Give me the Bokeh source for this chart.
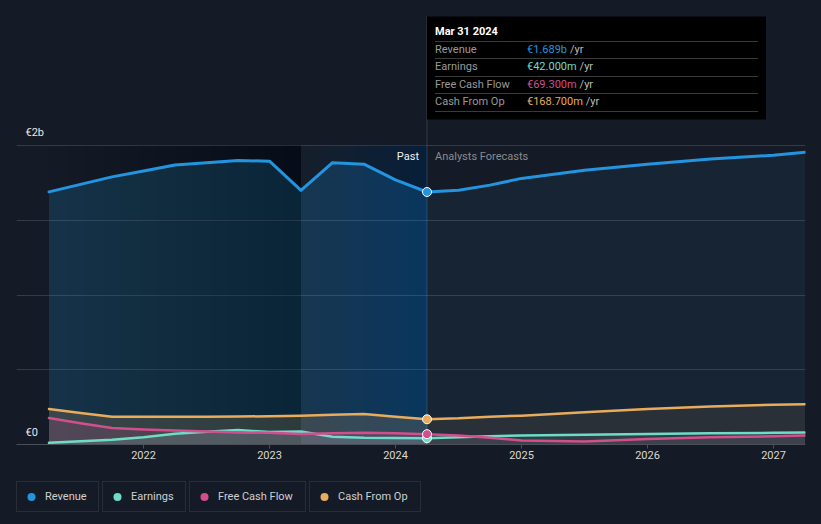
from bokeh.plotting import figure
from bokeh.layouts import column
from bokeh.models import Range1d, FixedTicker, Grid, Legend, LegendItem
from bokeh.core.properties import value
from bokeh.embed import file_html
from bokeh.resources import INLINE
import numpy as np

# ---------------- data (values in EUR billions) ----------------
years_past = [2021.25, 2021.5, 2021.75, 2022.0, 2022.25, 2022.5, 2022.75,
              2023.0, 2023.25, 2023.5, 2023.75, 2024.0, 2024.25]
revenue_past = [1.69, 1.74, 1.79, 1.83, 1.87, 1.885, 1.90,
                1.895, 1.70, 1.885, 1.875, 1.77, 1.689]
earnings_past = [0.011, 0.021, 0.031, 0.049, 0.072, 0.086, 0.097,
                 0.083, 0.087, 0.052, 0.045, 0.044, 0.042]
fcf_past = [0.177, 0.142, 0.111, 0.100, 0.093, 0.087, 0.081,
            0.078, 0.071, 0.075, 0.078, 0.076, 0.0693]
cfo_past = [0.237, 0.210, 0.186, 0.186, 0.186, 0.186, 0.187,
            0.189, 0.193, 0.199, 0.204, 0.186, 0.1687]

years_fc = [2024.25, 2024.5, 2024.75, 2025.0, 2025.5, 2026.0, 2026.5, 2027.0, 2027.25]
revenue_fc = [1.689, 1.70, 1.735, 1.78, 1.835, 1.875, 1.91, 1.935, 1.955]
earnings_fc = [0.042, 0.048, 0.055, 0.060, 0.066, 0.071, 0.075, 0.078, 0.080]
fcf_fc = [0.0693, 0.060, 0.045, 0.027, 0.020, 0.037, 0.049, 0.055, 0.060]
cfo_fc = [0.1687, 0.175, 0.186, 0.193, 0.215, 0.237, 0.255, 0.266, 0.270]

band_start = 2023.25          # start of highlighted past year
x_ticks = [2022, 2023, 2024, 2025, 2026, 2027]
x_tick_labels = ["2022", "2023", "2024", "2025", "2026", "2027"]
y_grid_ticks = [0, 0.5, 1.0, 1.5, 2.0]
y_labels = {0: "€0", 2.0: "€2b"}
series_names = ["Revenue", "Earnings", "Free Cash Flow", "Cash From Op"]
tooltip_date = "Mar 31 2024"

# ---------------- style ----------------
BG = "#151b26"
REV = "#2394df"
EARN = "#6fdcc8"
FCF = "#d24f8d"
CFO = "#e9ac5c"
colors = [REV, EARN, FCF, CFO]
FONT = value("Roboto")

W = 821
H_MAIN, H_LEG = 470, 54
FRAME_W, FRAME_H = 789, 436
x0 = 2022 - 127 / 126.0
x1 = x0 + FRAME_W / 126.0
ytop = 2.0 * FRAME_H / 299.0
XPX = (x1 - x0) / FRAME_W
YPX = ytop / FRAME_H

p = figure(width=W, height=H_MAIN, x_range=Range1d(x0, x1), y_range=Range1d(0, ytop),
           output_backend="svg", toolbar_location=None, y_axis_location=None,
           min_border_left=16, min_border_right=16, min_border_top=8,
           min_border_bottom=H_MAIN - 8 - FRAME_H,
           background_fill_color=BG, border_fill_color=BG, outline_line_color=None)

for g in p.select(type=Grid):
    g.visible = False
grid = Grid(dimension=1, ticker=FixedTicker(ticks=y_grid_ticks),
            grid_line_color="#353b46", grid_line_alpha=1.0)
p.add_layout(grid)

ax = p.xaxis[0]
ax.ticker = FixedTicker(ticks=x_ticks)
ax.major_label_overrides = dict(zip(x_ticks, x_tick_labels))
ax.axis_line_color = "#4a4f58"
ax.major_tick_line_color = "#4a4f58"
ax.major_tick_in = 0
ax.major_tick_out = 4
ax.minor_tick_line_color = None
ax.major_label_text_color = "#d9d9d9"
ax.major_label_text_font = "Roboto"
ax.major_label_text_font_size = "11px"
ax.major_label_standoff = 2

# ---------------- revenue fills ----------------
p.varea(x=years_past, y1=0, y2=revenue_past, fill_color=REV, fill_alpha=0.2)
p.varea(x=years_fc, y1=0, y2=revenue_fc, fill_color=REV, fill_alpha=0.08)

gtop = y_grid_ticks[-1]
band_end = years_past[-1]
n = 14
# darkening gradient over the early past (stacked layers, no seams)
for e in np.linspace(years_past[0], band_start, n + 1)[:-1]:
    p.quad(left=[e], right=[band_start], bottom=[0], top=[gtop],
           fill_color="black", fill_alpha=0.014, line_color=None)
# highlighted last year of the past
for i, e in enumerate(np.linspace(band_start, band_end, n + 1)[:-1]):
    p.quad(left=[e], right=[band_end], bottom=[0], top=[gtop],
           fill_color=REV, fill_alpha=0.035 if i == 0 else 0.006, line_color=None)

# ---------------- other fills ----------------
for yp, yf, c in [(cfo_past, cfo_fc, CFO), (fcf_past, fcf_fc, FCF), (earnings_past, earnings_fc, EARN)]:
    p.varea(x=years_past, y1=0, y2=yp, fill_color=c, fill_alpha=0.17)
    p.varea(x=years_fc, y1=0, y2=yf, fill_color=c, fill_alpha=0.09)

# ---------------- lines ----------------
all_x = years_past + years_fc[1:]
for yp, yf, c, w in [(revenue_past, revenue_fc, REV, 3), (cfo_past, cfo_fc, CFO, 2.5),
                     (earnings_past, earnings_fc, EARN, 2.5), (fcf_past, fcf_fc, FCF, 2.5)]:
    p.line(all_x, yp + yf[1:], line_color=c, line_width=w, line_join="round", line_cap="round")

# vertical marker line at the present date
tt_left = years_past[-1]
tt_top = ytop - 8 * YPX
tt_bottom = ytop - 111 * YPX
tt_right = tt_left + 339 * XPX
p.segment(x0=[tt_left], y0=[0], x1=[tt_left], y1=[tt_top], line_color="white",
          line_alpha=0.14, line_width=1)

# dots at present
for ys, c in [(revenue_past, REV), (cfo_past, CFO), (earnings_past, EARN), (fcf_past, FCF)]:
    p.scatter([years_past[-1]], [ys[-1]], marker="circle", size=9, fill_color=c,
              line_color="white", line_width=1)

# ---------------- labels ----------------
p.text(x=[x0], y=[gtop + 13 * YPX], text=[y_labels[2.0]], x_offset=9, text_font=FONT,
       text_font_size="11px", text_color="#e8e8e8", text_baseline="middle")
p.text(x=[x0], y=[0 + 12 * YPX], text=[y_labels[0]], x_offset=9, text_font=FONT,
       text_font_size="11px", text_color="#e8e8e8", text_baseline="middle")
p.text(x=[band_end], y=[gtop - 11 * YPX], text=["Past"], x_offset=-8, text_font=FONT,
       text_font_size="11px", text_color="#f0f0f0", text_align="right", text_baseline="middle")
p.text(x=[band_end], y=[gtop - 11 * YPX], text=["Analysts Forecasts"], x_offset=8, text_font=FONT,
       text_font_size="11px", text_color="#8a8a8a", text_align="left", text_baseline="middle")

# ---------------- tooltip box ----------------
p.quad(left=[tt_left], right=[tt_right], bottom=[tt_bottom], top=[tt_top],
       fill_color="black", line_color=None)
p.text(x=[tt_left], y=[tt_top - 15 * YPX], text=[tooltip_date], x_offset=8, text_font=FONT,
       text_font_size="11px", text_font_style="bold", text_color="white", text_baseline="middle")
sep_px = [25, 42, 60, 77, 95]
p.segment(x0=[tt_left + 8 * XPX] * 5, x1=[tt_right - 8 * XPX] * 5,
          y0=[tt_top - s * YPX for s in sep_px], y1=[tt_top - s * YPX for s in sep_px],
          line_color="#3a3a3a", line_width=1)

vals = [f"€{revenue_past[-1]:.3f}b", f"€{earnings_past[-1]*1000:.3f}m",
        f"€{fcf_past[-1]*1000:.3f}m", f"€{cfo_past[-1]*1000:.3f}m"]
row_px = [33, 50, 68, 85]
CW = {"€": 0.562, ".": 0.263, "m": 0.876, "b": 0.561, " ": 0.248}


def text_w(s, size=11):
    return sum(CW.get(ch, 0.562) for ch in s) * size


for name, v, c, rp in zip(series_names, vals, colors, row_px):
    yy = tt_top - rp * YPX
    p.text(x=[tt_left], y=[yy], text=[name], x_offset=8, text_font=FONT, text_font_size="11px",
           text_color="#9a9a9a", text_baseline="middle")
    p.text(x=[tt_left], y=[yy], text=[v], x_offset=100, text_font=FONT, text_font_size="11px",
           text_color=c, text_baseline="middle")
    p.text(x=[tt_left], y=[yy], text=["/yr"], x_offset=100 + text_w(v) + 3, text_font=FONT,
           text_font_size="11px", text_color="#bdbdbd", text_baseline="middle")

# ---------------- legend (separate strip below the chart) ----------------
lf = figure(width=W, height=H_LEG, x_range=Range1d(0, 1), y_range=Range1d(0, 1),
            output_backend="svg", toolbar_location=None, x_axis_location=None,
            y_axis_location=None, min_border=0, background_fill_color=BG,
            border_fill_color=BG, outline_line_color=None)
for g in lf.select(type=Grid):
    g.visible = False
legend_x = [0, 86, 173, 293]
legend_w = [81, 82, 115, 110]
for name, c, lx, lw in zip(series_names, colors, legend_x, legend_w):
    # one off-screen point so the legend can draw its marker
    r = lf.scatter(x=[-10], y=[-10], marker="circle", size=9, fill_color=c, line_color=None)
    leg = Legend(items=[LegendItem(label=name, renderers=[r])], location=(lx, 12),
                 orientation="horizontal", padding=4, margin=0, spacing=0,
                 glyph_width=20, glyph_height=21, label_height=21, label_width=lw - 32,
                 label_standoff=4, label_text_font="Roboto", label_text_font_size="11px",
                 label_text_color="#d0d0d0", background_fill_color=BG, background_fill_alpha=1,
                 border_line_color="#3b404a", border_line_width=1)
    lf.add_layout(leg)

layout = column(p, lf, spacing=0)
html = file_html(layout, INLINE)
html = html.replace("</head>", "<style>html,body{background:#151b26;}</style></head>", 1)
open("out.html", "w").write(html)
